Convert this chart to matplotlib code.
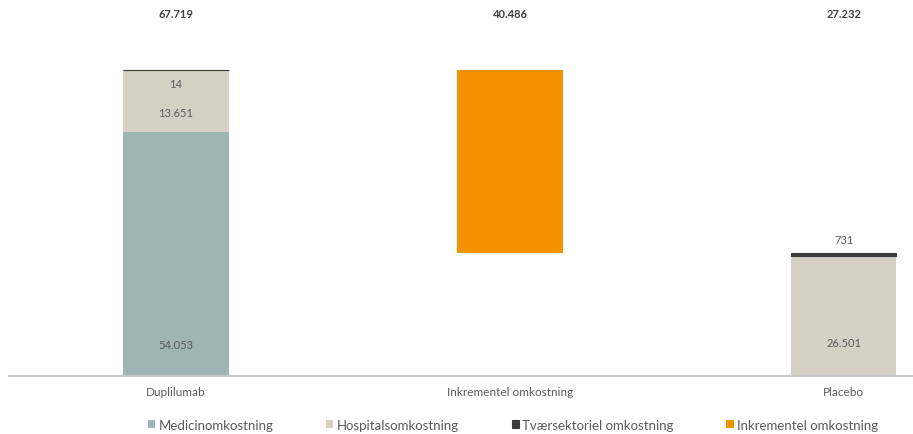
import numpy as np
import matplotlib.pyplot as plt

plt.rcParams['font.family'] = ['Lato', 'DejaVu Sans']

categories = ['Duplilumab', 'Inkrementel omkostning', 'Placebo']
medicin = np.array([54053, 0, 0])
hospital = np.array([13651, 0, 26501])
tvaer = np.array([14, 0, 731])
inkrementel = np.array([0, 40486, 0])
inkr_base = np.array([0, 27232, 0])
totals = ['67.719', '40.486', '27.232']

c_med = '#9fb5b5'
c_hosp = '#d5d0c3'
c_tvaer = '#3a3a3a'
c_inkr = '#f39200'
txt = '#595959'

fig = plt.figure(figsize=(9.13, 4.35), dpi=100)
ax = fig.add_axes([9 / 913, 58 / 435, 904 / 913, 377 / 435])

x = np.arange(len(categories))
w = 0.315
ax.bar(x, medicin, w, color=c_med, label='Medicinomkostning')
ax.bar(x, hospital, w, bottom=medicin, color=c_hosp, label='Hospitalsomkostning')
ax.bar(x, tvaer, w, bottom=medicin + hospital, color=c_tvaer, edgecolor=c_tvaer,
       linewidth=0.8, label='Tværsektoriel omkostning')
ax.bar(x, inkrementel, w, bottom=inkr_base, color=c_inkr, label='Inkrementel omkostning')

top = (medicin + hospital + tvaer).max()
ax.set_ylim(0, top * 377 / 306)
ax.set_xlim(-0.5, 2.207)

def fmt(v):
    return f'{v:,}'.replace(',', '.')

fs = 8
# segment labels
ax.text(0, 7000, fmt(medicin[0]), ha='center', va='center', color=txt, fontsize=fs)
ax.text(0, medicin[0] + hospital[0] - 9500, fmt(hospital[0]), ha='center', va='center', color=txt, fontsize=fs)
ax.text(0, medicin[0] + hospital[0] - 3000, fmt(tvaer[0]), ha='center', va='center', color=txt, fontsize=fs)
ax.text(2, 7500, fmt(hospital[2]), ha='center', va='center', color=txt, fontsize=fs)
ax.text(2, hospital[2] + tvaer[2] + 3000, fmt(tvaer[2]), ha='center', va='center', color=txt, fontsize=fs)

# totals at the top
tr = ax.get_xaxis_transform()
for xi, t in zip(x, totals):
    ax.text(xi, 1 - 15 / 377, t, transform=tr, ha='center', va='center',
            fontsize=8, fontweight='bold', color='#404040')

for s in ['top', 'right', 'left']:
    ax.spines[s].set_visible(False)
ax.spines['bottom'].set_color('#c8c8c8')
ax.spines['bottom'].set_linewidth(1.5)
ax.set_yticks([])
ax.set_xticks(x)
ax.set_xticklabels(categories, color=txt, fontsize=8.5)
ax.tick_params(axis='x', length=0, pad=7)

fig.legend(loc='center', bbox_to_anchor=(513 / 913, 1 - 426 / 435), ncol=4, frameon=False,
           fontsize=9.5, labelcolor=txt, handlelength=0.55, handleheight=0.55,
           handletextpad=0.25, columnspacing=4.0)

fig.savefig('out.png', dpi=100)
